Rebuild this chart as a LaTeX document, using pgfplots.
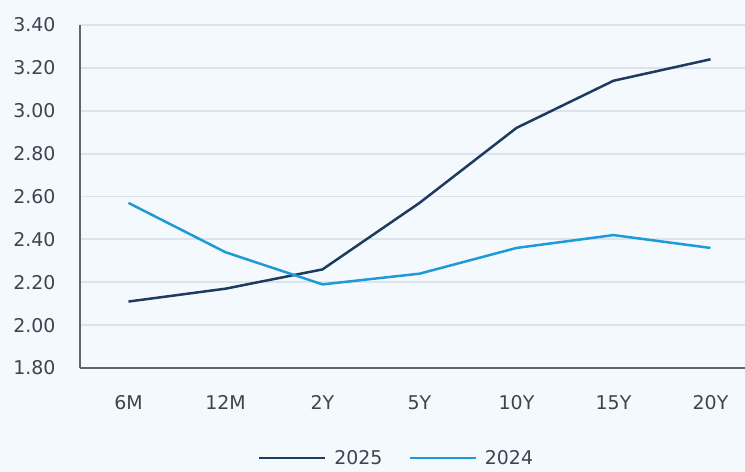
\documentclass[border=0pt]{standalone}
\usepackage{fontspec}
\setmainfont{DejaVu Sans}
\usepackage{pgfplots}
\pgfplotsset{compat=1.18}
\definecolor{bgc}{HTML}{F4F9FD}
\definecolor{navy}{HTML}{1F3A5F}
\definecolor{lblue}{HTML}{1E9BD7}
\definecolor{gridc}{HTML}{DDE3EA}
\definecolor{spine}{HTML}{5F6670}
\definecolor{txt}{HTML}{3B4450}
\begin{document}
\begin{tikzpicture}
\useasboundingbox (-80bp,-104bp) rectangle (665bp,368bp);
\clip (-80bp,-104bp) rectangle (665bp,368bp);
\fill[bgc] (-80bp,-104bp) rectangle (665bp,368bp);
\begin{axis}[
  at={(0,0)}, anchor=south west,
  scale only axis, width=679bp, height=343bp,
  xmin=-0.5, xmax=6.5, ymin=1.8, ymax=3.4,
  xtick={0,...,6}, xticklabels={6M,12M,2Y,5Y,10Y,15Y,20Y},
  ytick={1.8,2.0,...,3.41},
  yticklabel style={/pgf/number format/fixed, /pgf/number format/fixed zerofill, /pgf/number format/precision=2},
  /pgf/number format/assume math mode=true,
  ymajorgrids, major grid style={gridc, line width=1.8bp},
  axis x line*=bottom, axis y line*=left,
  axis line style={spine, line width=2.5bp},
  x axis line style={-}, y axis line style={-},
  tick style={draw=none},
  tick label style={font=\fontsize{19}{22}\selectfont, text=txt},
  xticklabel style={yshift=-24bp},
  yticklabel style={xshift=-21bp},
  legend style={at={(0.466,-0.263)}, anchor=center, draw=none, fill=none,
    font=\fontsize{19}{22}\selectfont, text=txt, column sep=6bp,
    /tikz/every even column/.append style={column sep=24bp}},
  legend columns=2,
  legend image code/.code={\draw[#1] (0bp,0bp) -- (66bp,0bp);},
]
\addplot[navy, line width=2.5bp] coordinates {(0,2.11) (1,2.17) (2,2.26) (3,2.57) (4,2.92) (5,3.14) (6,3.24)};
\addlegendentry{2025}
\addplot[lblue, line width=2.5bp] coordinates {(0,2.57) (1,2.34) (2,2.19) (3,2.24) (4,2.36) (5,2.42) (6,2.36)};
\addlegendentry{2024}
\end{axis}
\end{tikzpicture}
\end{document}
